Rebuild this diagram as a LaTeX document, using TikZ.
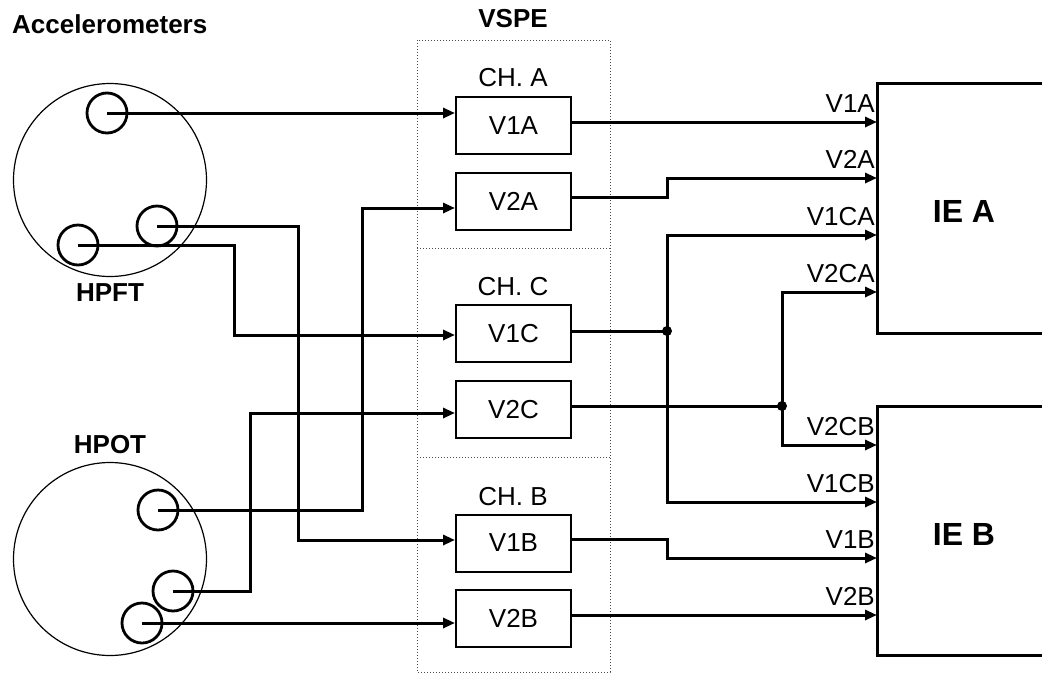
\documentclass[tikz,border=0pt]{standalone}
\usepackage{fontspec}
\setmainfont{Liberation Sans}
\usetikzlibrary{arrows.meta,calc}
\begin{document}
\begin{tikzpicture}[x=1pt,y=-1pt,
  lbl/.style={font=\fontsize{26}{30}\selectfont, inner sep=0},
  blbl/.style={font=\fontsize{26}{30}\selectfont\bfseries, inner sep=0},
  ielbl/.style={font=\fontsize{32}{36}\selectfont\bfseries, inner sep=0},
  vbox/.style={draw, line width=2pt, minimum width=115pt, minimum height=57pt, inner sep=0, font=\fontsize{26}{30}\selectfont},
  sensor/.style={circle, draw, line width=2.8pt, minimum size=40pt, inner sep=0},
  housing/.style={circle, draw, line width=1.2pt, minimum size=193pt, inner sep=0},
  wire/.style={line width=3pt},
  arr/.style={wire, -{Triangle[length=12pt,width=10pt]}},
  dotbox/.style={draw=gray!60!black, line width=1pt, dotted},
  junction/.style={circle, fill, inner sep=0, minimum size=10pt},
  ie/.style={line width=3pt},
]
\useasboundingbox (0,0) rectangle (1042,673);

% VSPE dotted enclosure
\draw[dotbox] (417,40) rectangle (610,672);
\draw[dotbox] (417,248) -- (610,248);
\draw[dotbox] (417,457) -- (610,457);

% titles
\node[blbl, anchor=base west] (tacc) at (12,33) {Accelerometers};
\node[blbl, anchor=base] (tvspe) at (513,27) {VSPE};
\node[lbl, anchor=base] (tcha) at (513,86) {CH. A};
\node[lbl, anchor=base] (tchc) at (513,295) {CH. C};
\node[lbl, anchor=base] (tchb) at (513,505) {CH. B};
\node[blbl, anchor=base] (thpft) at (110,301) {HPFT};
\node[blbl, anchor=base] (thpot) at (110,453) {HPOT};

% housings and sensors
\node[housing] (hpft) at (110,180) {};
\node[housing] (hpot) at (110,559) {};
\node[sensor] (s1) at (107,113) {};
\node[sensor] (s2) at (157,226) {};
\node[sensor] (s3) at (78,245) {};
\node[sensor] (p1) at (158,510) {};
\node[sensor] (p2) at (173,591) {};
\node[sensor] (p3) at (142,623) {};

% VSPE boxes
\node[vbox] (v1a) at (513.5,125.5) {V1A};
\node[vbox] (v2a) at (513.5,201.5) {V2A};
\node[vbox] (v1c) at (513.5,333.5) {V1C};
\node[vbox] (v2c) at (513.5,409.5) {V2C};
\node[vbox] (v1b) at (513.5,543) {V1B};
\node[vbox] (v2b) at (513.5,618) {V2B};

% IE boxes
\draw[ie] (1042,83) -- (877,83) -- (877,333) -- (1042,333);
\draw[ie] (1042,406) -- (877,406) -- (877,655) -- (1042,655);
\node[ielbl, anchor=base] (tiea) at (964,222) {IE A};
\node[ielbl, anchor=base] (tieb) at (964,545) {IE B};

% input wiring
\coordinate (b2) at (298,540);
\coordinate (b3) at (234,335);
\coordinate (b4) at (362,208);
\coordinate (b5) at (250,413);
\draw[arr] (s1.center) -- (s1.center -| v1a.west);
\draw[arr] (s2.center) -| (b2) -- (b2 -| v1b.west);
\draw[arr] (s3.center) -| (b3) -- (b3 -| v1c.west);
\draw[arr] (p1.center) -| (b4) -- (b4 -| v2a.west);
\draw[arr] (p2.center) -| (b5) -- (b5 -| v2c.west);
\draw[arr] (p3.center) -- (p3.center -| v2b.west);

% IE inputs
\coordinate (iA1) at (877,122);
\coordinate (iA2) at (877,178);
\coordinate (iA3) at (877,235);
\coordinate (iA4) at (877,292);
\coordinate (iB1) at (877,445);
\coordinate (iB2) at (877,502);
\coordinate (iB3) at (877,558);
\coordinate (iB4) at (877,615);

% output wiring
\node[junction] (j1) at (667,331) {};
\node[junction] (j2) at (782,406) {};
\coordinate (k2) at (667,197);
\coordinate (k6) at (667,539);
\draw[arr] (v1a.east |- iA1) -- (iA1);
\draw[arr] (k2 -| v2a.east) -- (k2) |- (iA2);
\draw[wire] (j1.center -| v1c.east) -- (j1.center);
\draw[arr] (j1.center) |- (iA3);
\draw[arr] (j1.center) |- (iB2);
\draw[wire] (j2.center -| v2c.east) -- (j2.center);
\draw[arr] (j2.center) |- (iA4);
\draw[arr] (j2.center) |- (iB1);
\draw[arr] (k6 -| v1b.east) -- (k6) |- (iB3);
\draw[arr] (v2b.east |- iB4) -- (iB4);

% output labels
\node[lbl, anchor=base east] (l1) at (875,112) {V1A};
\node[lbl, anchor=base east] (l2) at (875,168) {V2A};
\node[lbl, anchor=base east] (l3) at (875,225) {V1CA};
\node[lbl, anchor=base east] (l4) at (875,282) {V2CA};
\node[lbl, anchor=base east] (l5) at (875,435) {V2CB};
\node[lbl, anchor=base east] (l6) at (875,492) {V1CB};
\node[lbl, anchor=base east] (l7) at (875,548) {V1B};
\node[lbl, anchor=base east] (l8) at (875,605) {V2B};
\end{tikzpicture}
\end{document}
